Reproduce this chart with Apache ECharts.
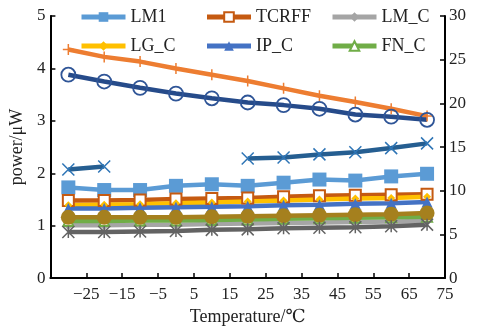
<!DOCTYPE html>
<html>
<head>
<meta charset="utf-8">
<script src="https://cdn.jsdelivr.net/npm/echarts@6/dist/echarts.min.js"></script>
<style>
  html, body { margin: 0; padding: 0; background: #fff; }
  #chart { width: 481px; height: 331px; }
</style>
</head>
<body>
<div id="chart"></div>
<script>
const temps = [-30, -20, -10, 0, 10, 20, 30, 40, 50, 60, 70];

const lm1 = [1.73, 1.68, 1.68, 1.76, 1.79, 1.76, 1.82, 1.88, 1.86, 1.94, 1.99];
const tcrff = [1.48, 1.48, 1.49, 1.51, 1.52, 1.53, 1.55, 1.57, 1.58, 1.59, 1.60];
const lmC = [1.01, 1.01, 1.02, 1.02, 1.03, 1.04, 1.05, 1.06, 1.07, 1.08, 1.09];
const lgC = [1.39, 1.40, 1.41, 1.43, 1.44, 1.46, 1.48, 1.50, 1.52, 1.53, 1.55];
const ipC = [1.33, 1.33, 1.34, 1.35, 1.36, 1.37, 1.39, 1.40, 1.42, 1.43, 1.45];
const fnC = [1.09, 1.09, 1.10, 1.10, 1.11, 1.12, 1.13, 1.14, 1.15, 1.16, 1.17];
// series without a legend entry
const plusLine = [4.36, 4.22, 4.13, 4.00, 3.88, 3.76, 3.62, 3.48, 3.36, 3.23, 3.09];
const circleLine = [3.88, 3.75, 3.63, 3.52, 3.43, 3.35, 3.30, 3.23, 3.12, 3.08, 3.02];
const crossLine = [2.07, 2.13, null, null, null, 2.28, 2.30, 2.36, 2.40, 2.48, 2.57];
const dotLine = [1.16, 1.16, 1.16, 1.16, 1.17, 1.18, 1.19, 1.20, 1.21, 1.22, 1.24];
const starLine = [0.88, 0.88, 0.89, 0.90, 0.92, 0.93, 0.95, 0.96, 0.97, 0.99, 1.02];

const legendNames = ['LM1', 'TCRFF', 'LM_C', 'LG_C', 'IP_C', 'FN_C'];

const FONT = '"Liberation Serif", "DejaVu Serif", serif';
const PLUS = 'path://M5,0L5,10M0,5L10,5';
const CROSS = 'path://M0,0L10,10M10,0L0,10';
const STAR = 'path://M0,0L10,10M10,0L0,10M5,0L5,10';

function pairs(values) {
  return temps.map((t, i) => [t, values[i]]);
}

function lineSeries(name, values, color, symbol, size, extra) {
  return Object.assign({
    name,
    type: 'line',
    data: pairs(values),
    symbol,
    symbolSize: size,
    lineStyle: { width: 4.5, color },
    itemStyle: { color },
    emphasis: { disabled: true },
    animation: false
  }, extra || {});
}

function strokeSymbol(color, bw) {
  return { color: 'transparent', borderColor: color, borderWidth: bw };
}

const axisLineStyle = { color: '#000', width: 2 };
const tickStyle = { show: true, inside: true, length: 5, lineStyle: { color: '#000', width: 1.5 } };

const chart = echarts.init(document.getElementById('chart'));

chart.setOption({
  backgroundColor: '#fff',
  grid: { left: 48, right: 36, top: 16, bottom: 44 },
  legend: {
    data: legendNames,
    left: 79,
    top: 8,
    width: 370,
    padding: 0,
    itemWidth: 44,
    itemHeight: 12,
    itemGap: 11,
    lineStyle: { width: 5 },
    textStyle: { fontFamily: FONT, fontSize: 18, color: '#222', width: 63, lineHeight: 16 }
  },
  xAxis: {
    type: 'value',
    min: -35,
    max: 75,
    interval: 10,
    name: 'Temperature/℃',
    nameLocation: 'middle',
    nameGap: 23,
    nameTextStyle: { fontFamily: FONT, fontSize: 18, color: '#222' },
    axisLine: { onZero: false, lineStyle: axisLineStyle },
    axisTick: tickStyle,
    axisLabel: {
      fontFamily: FONT, fontSize: 17, color: '#222', margin: 8,
      formatter: (v) => (v === -35 ? '' : String(v).replace('-', '−'))
    },
    splitLine: { show: false }
  },
  yAxis: [{
    type: 'value',
    min: 0,
    max: 5,
    interval: 1,
    name: 'power/μW',
    nameLocation: 'middle',
    nameGap: 21,
    nameTextStyle: { fontFamily: FONT, fontSize: 18, color: '#222' },
    axisLine: { show: true, onZero: false, lineStyle: axisLineStyle },
    axisTick: tickStyle,
    axisLabel: { fontFamily: FONT, fontSize: 17, color: '#222', margin: 5 },
    splitLine: { show: false }
  }, {
    type: 'value',
    position: 'right',
    min: 0,
    max: 30,
    interval: 5,
    axisLine: { show: true, onZero: false, lineStyle: axisLineStyle },
    axisTick: tickStyle,
    axisLabel: { fontFamily: FONT, fontSize: 17, color: '#222', margin: 4 },
    splitLine: { show: false }
  }],
  series: [
    lineSeries('LM1', lm1, '#5B9BD5', 'rect', 14),
    lineSeries('TCRFF', tcrff, '#C55A11', 'emptyRect', 11),
    lineSeries('LM_C', lmC, '#A5A5A5', 'diamond', 10),
    lineSeries('LG_C', lgC, '#FFC000', 'diamond', 8),
    lineSeries('IP_C', ipC, '#4472C4', 'triangle', 11),
    lineSeries('FN_C', fnC, '#70AD47', 'emptyTriangle', 10),
    lineSeries('series7', plusLine, '#ED7D31', PLUS, 11, { itemStyle: strokeSymbol('#ED7D31', 1.5) }),
    lineSeries('series8', circleLine, '#264B8A', 'circle', 14, { itemStyle: strokeSymbol('#2F5597', 1.8) }),
    lineSeries('series9', crossLine, '#255E91', CROSS, 12, { itemStyle: strokeSymbol('#2E75B6', 1.5) }),
    lineSeries('series10', dotLine, '#A5801E', 'circle', 15),
    lineSeries('series11', starLine, '#636363', STAR, 12, { itemStyle: strokeSymbol('#636363', 1.5) })
  ]
});
</script>
</body>
</html>
